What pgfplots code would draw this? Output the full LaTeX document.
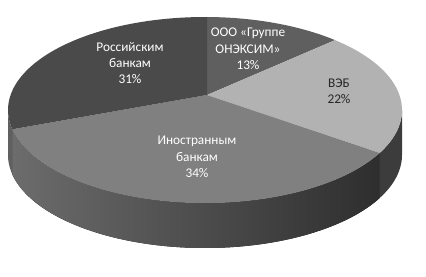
\documentclass[border=0pt]{standalone}
\usepackage{pgfplots}
\pgfplotsset{compat=1.18}
\usepgfplotslibrary{fillbetween}
\usepackage{fontspec}
\setmainfont{Carlito}
\definecolor{cRus}{HTML}{4A4A4A}
\definecolor{cOnx}{HTML}{5F5F5F}
\definecolor{cVeb}{HTML}{B2B2B2}
\definecolor{cIno}{HTML}{808080}
\definecolor{cSideL}{HTML}{6C6C6C}
\definecolor{cSideR}{HTML}{2E2E2E}
\definecolor{cSideV}{HTML}{3C3C3C}
\definecolor{cSideRus}{HTML}{606060}
% shares (%): ООО «Группе ОНЭКСИМ» 13, ВЭБ 22, Иностранным банкам 34, Российским банкам 31
% boundary angles on the drawn ellipse (deg)
\def\aA{89.4}\def\aB{48.7}\def\aC{-27.5}\def\aD{-168}\def\aE{-270.6}
\begin{document}
\begin{tikzpicture}
\begin{axis}[width=426bp, height=277bp, scale only axis,
  xmin=0, xmax=426, ymin=0, ymax=277, y dir=reverse,
  hide axis, clip=false]
% invisible frame (fixes the picture's extent)
\addplot[draw=none] coordinates {(0,0) (426,0) (426,277) (0,277)};
% ---- side walls ----
\addplot[draw=none, name path=sIt, domain=192:332.5, samples=80] ({205+197*cos(x)},{110-93*sin(x)});
\addplot[draw=none, name path=sIb, domain=192:332.5, samples=80] ({205+197*cos(x)},{155-93*sin(x)});
\addplot[left color=cSideL, right color=cSideR, draw=none] fill between[of=sIt and sIb];
\addplot[draw=none, name path=sVt, domain=332.5:360, samples=30] ({205+197*cos(x)},{110-93*sin(x)});
\addplot[draw=none, name path=sVb, domain=332.5:360, samples=30] ({205+197*cos(x)},{155-93*sin(x)});
\addplot[fill=cSideV, draw=none] fill between[of=sVt and sVb];
\addplot[draw=none, name path=sRt, domain=180:192, samples=20] ({205+197*cos(x)},{110-93*sin(x)});
\addplot[draw=none, name path=sRb, domain=180:192, samples=20] ({205+197*cos(x)},{155-93*sin(x)});
\addplot[fill=cSideRus, draw=none] fill between[of=sRt and sRb];
% ---- top face ----
\addplot[draw=none, name path=ctr] coordinates {(207,95) (207,95)};
\addplot[draw=none, name path=aO, domain=\aA:\aB, samples=40] ({205+197*cos(x)},{110-93*sin(x)});
\addplot[fill=cOnx, draw=none] fill between[of=aO and ctr];
\addplot[draw=none, name path=aV, domain=\aB:\aC, samples=50] ({205+197*cos(x)},{110-93*sin(x)});
\addplot[fill=cVeb, draw=none] fill between[of=aV and ctr];
\addplot[draw=none, name path=aI, domain=\aC:\aD, samples=80] ({205+197*cos(x)},{110-93*sin(x)});
\addplot[fill=cIno, draw=none] fill between[of=aI and ctr];
\addplot[draw=none, name path=aR, domain=\aD:\aE, samples=60] ({205+197*cos(x)},{110-93*sin(x)});
\addplot[fill=cRus, draw=none] fill between[of=aR and ctr];
% ---- labels ----
\tikzset{lab/.style={align=center, font=\fontsize{13.3bp}{16.3bp}\selectfont, inner sep=0pt}}
\node[lab, text=white] at (axis cs:130,63) {Российским\\банкам\\31\%};
\node[lab, text=white] at (axis cs:248,49) {ООО «Группе\\ОНЭКСИМ»\\13\%};
\node[lab, text=black!85] at (axis cs:339,91) {ВЭБ\\22\%};
\node[lab, text=white] at (axis cs:197,157) {Иностранным\\банкам\\34\%};
\end{axis}
\end{tikzpicture}
\end{document}
